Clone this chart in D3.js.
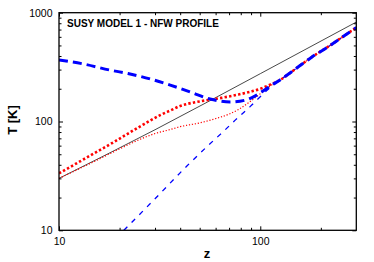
<!DOCTYPE html>
<html>
<head>
<meta charset="utf-8">
<script src="https://cdn.jsdelivr.net/npm/d3@7"></script>
<style>
  body { margin: 0; background: #fff; }
  text { font-family: "Liberation Sans", Arial, sans-serif; }
</style>
</head>
<body>
<div id="chart"></div>
<script>
let w = 374;
let h = 262;

// plot area edges
let plotLeft = 59, plotRight = 356.3, plotTop = 12.7, plotBottom = 230.3;

// tick values
let xMajor = [10, 100];
let xMinor = [20, 30, 40, 50, 60, 70, 80, 90, 200];
let yMajor = [10, 100, 1000];
let yMinor = [20, 30, 40, 50, 60, 70, 80, 90, 200, 300, 400, 500, 600, 700, 800, 900];

// CMB temperature (thin black)
let cmbZ = [10, 30, 100, 300];
let cmbT = [30, 84, 275, 820];

// thick red dotted
let redThickZ = [10, 13, 18.8, 25, 32, 36, 40, 44, 50, 63, 78, 100, 112, 125, 140, 157, 180, 215, 250, 300];
let redThickT = [33.4, 44, 65, 89, 115, 127, 139, 146, 153, 164, 177, 200, 218, 240, 278, 325, 390, 480, 580, 730];

// thin red dotted
let redThinZ = [10, 15, 20, 25, 30, 35, 40, 50, 58.6, 70, 78, 88, 100, 112, 125, 140, 157, 180, 215, 250, 300];
let redThinT = [30, 43, 56, 68, 77.5, 83.5, 89.6, 97, 105, 117, 129, 150, 180, 212, 240, 278, 325, 390, 480, 580, 730];

// thick blue dashed
let blueThickZ = [10, 13, 17.9, 22, 28.4, 35.7, 44.8, 56.3, 70.9, 84, 94.5, 105, 115, 125, 140, 157, 180, 215, 250, 300];
let blueThickT = [367, 340, 297, 276, 246, 216, 187, 161, 151, 157, 172, 195, 218, 240, 278, 325, 390, 480, 580, 730];

// thin blue dashed
let blueThinZ = [21, 30, 43.2, 55, 67, 73.7, 89, 100, 112, 125, 140, 157, 180, 215, 250, 300];
let blueThinT = [10, 19.5, 39, 60, 84, 99.6, 137, 169, 205, 240, 278, 325, 390, 480, 580, 730];

let svg = d3.select("#chart").append("svg").attr("width", w).attr("height", h);

let x = d3.scaleLog().domain([10, 300]).range([plotLeft, plotRight]);
let y = d3.scaleLog().domain([10, 1000]).range([plotBottom, plotTop]);

svg.append("clipPath").attr("id", "clip")
  .append("rect")
  .attr("x", plotLeft).attr("y", plotTop)
  .attr("width", plotRight - plotLeft).attr("height", plotBottom - plotTop);

let line = d3.line()
  .x(d => x(d[0]))
  .y(d => y(d[1]))
  .curve(d3.curveMonotoneX);

let series = [
  { z: cmbZ, t: cmbT, color: "#333", width: 0.9, dash: null },
  { z: redThinZ, t: redThinT, color: "#ff0000", width: 1.2, dash: "1.2,1.8" },
  { z: blueThinZ, t: blueThinT, color: "#0000ff", width: 1.3, dash: "5,6" },
  { z: redThickZ, t: redThickT, color: "#ff0000", width: 2.6, dash: "2.4,2.2" },
  { z: blueThickZ, t: blueThickT, color: "#0000ff", width: 3, dash: "9,5" }
];

let plot = svg.append("g").attr("clip-path", "url(#clip)");

plot.selectAll("path.series")
  .data(series)
  .enter()
  .append("path")
  .attr("class", "series")
  .attr("fill", "none")
  .attr("stroke", d => d.color)
  .attr("stroke-width", d => d.width)
  .attr("stroke-dasharray", d => d.dash)
  .attr("d", d => line(d.z.map((z, i) => [z, d.t[i]])));

// axes with inward ticks on all four sides
function styleAxis(g) {
  g.select(".domain").remove();
  g.selectAll("line").attr("stroke", "#000").attr("stroke-width", 1);
  g.selectAll("text").attr("font-size", 10.5).attr("fill", "#000")
    .attr("font-family", "Liberation Sans, Arial, sans-serif");
}

svg.append("g").attr("transform", `translate(0,${plotBottom})`)
  .call(d3.axisBottom(x).tickValues(xMajor).tickSize(-4).tickPadding(7).tickFormat(d3.format("d")))
  .call(styleAxis);
svg.append("g").attr("transform", `translate(0,${plotBottom})`)
  .call(d3.axisBottom(x).tickValues(xMinor).tickSize(-2.5).tickFormat(""))
  .call(styleAxis);
svg.append("g").attr("transform", `translate(0,${plotTop})`)
  .call(d3.axisTop(x).tickValues(xMajor).tickSize(-4).tickFormat(""))
  .call(styleAxis);
svg.append("g").attr("transform", `translate(0,${plotTop})`)
  .call(d3.axisTop(x).tickValues(xMinor).tickSize(-2.5).tickFormat(""))
  .call(styleAxis);

svg.append("g").attr("transform", `translate(${plotLeft},0)`)
  .call(d3.axisLeft(y).tickValues(yMajor).tickSize(-4).tickPadding(6.5).tickFormat(d3.format("d")))
  .call(styleAxis);
svg.append("g").attr("transform", `translate(${plotLeft},0)`)
  .call(d3.axisLeft(y).tickValues(yMinor).tickSize(-2.5).tickFormat(""))
  .call(styleAxis);
svg.append("g").attr("transform", `translate(${plotRight},0)`)
  .call(d3.axisRight(y).tickValues(yMajor).tickSize(-4).tickFormat(""))
  .call(styleAxis);
svg.append("g").attr("transform", `translate(${plotRight},0)`)
  .call(d3.axisRight(y).tickValues(yMinor).tickSize(-2.5).tickFormat(""))
  .call(styleAxis);

// frame
svg.append("rect")
  .attr("x", plotLeft).attr("y", plotTop)
  .attr("width", plotRight - plotLeft).attr("height", plotBottom - plotTop)
  .attr("fill", "none")
  .attr("stroke", "#000")
  .attr("stroke-width", 1.3);

// title and axis labels
svg.append("text")
  .attr("x", 67).attr("y", 27)
  .attr("font-size", 10)
  .attr("font-weight", "bold")
  .text("SUSY MODEL 1 - NFW PROFILE");

svg.append("text")
  .attr("transform", "translate(17,120) rotate(-90)")
  .attr("text-anchor", "middle")
  .attr("font-size", 13)
  .attr("font-weight", "bold")
  .text("T [K]");

svg.append("text")
  .attr("x", 207).attr("y", 258)
  .attr("text-anchor", "middle")
  .attr("font-size", 13)
  .attr("font-weight", "bold")
  .text("z");
</script>
</body>
</html>
